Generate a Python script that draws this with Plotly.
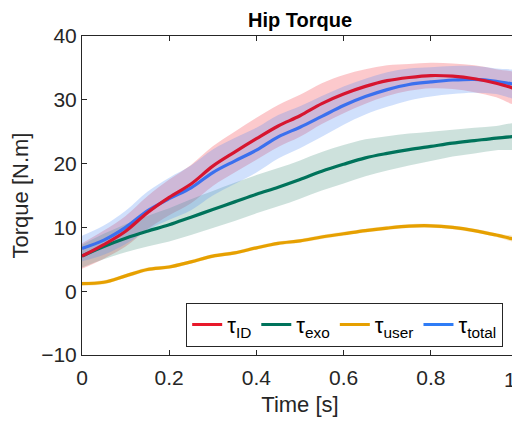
import plotly.graph_objects as go

t = [round(i * 0.05, 2) for i in range(21)]

tau_id = [5.5, 7.3, 9.4, 12.3, 14.7, 16.8, 19.6, 21.8, 23.9, 25.9, 27.5,
          29.4, 30.9, 32.1, 33.0, 33.5, 33.8, 33.7, 33.3, 32.6, 31.6]
tau_id_sd = [2.0, 2.2, 2.4, 2.6, 2.8, 3.0, 3.1, 3.2, 3.3, 3.3, 3.3,
             3.2, 3.0, 2.7, 2.4, 2.1, 2.0, 2.0, 2.1, 2.2, 2.3]

tau_total = [6.7, 8.0, 10.0, 12.6, 14.5, 16.2, 18.6, 20.4, 22.1, 24.2, 25.7,
             27.4, 29.1, 30.5, 31.6, 32.4, 32.8, 33.1, 33.2, 32.9, 32.3]
tau_total_sd = [2.0, 2.3, 2.6, 3.0, 3.3, 3.5, 3.6, 3.6, 3.5, 3.4, 3.3,
                3.2, 3.0, 2.8, 2.7, 2.5, 2.3, 2.2, 2.1, 2.0, 2.0]

tau_exo = [5.5, 7.0, 8.3, 9.4, 10.4, 11.6, 12.8, 14.0, 15.2, 16.3, 17.5,
           18.8, 19.9, 20.9, 21.6, 22.2, 22.7, 23.2, 23.6, 24.0, 24.3]
tau_exo_sd = [1.8, 2.0, 2.2, 2.4, 2.6, 2.8, 2.9, 3.0, 3.0, 3.0, 3.0,
              3.0, 3.0, 2.9, 2.7, 2.5, 2.3, 2.1, 2.0, 1.9, 1.8]

tau_user = [1.2, 1.4, 2.4, 3.4, 3.8, 4.6, 5.5, 6.0, 6.8, 7.5, 7.9,
            8.5, 9.0, 9.5, 9.9, 10.2, 10.25, 10.0, 9.5, 8.8, 8.0]
tau_user_sd = [0.3] * 21

x_ticks = [0, 0.2, 0.4, 0.6, 0.8, 1]
x_ticklabels = ["0", "0.2", "0.4", "0.6", "0.8", "1"]
y_ticks = [-10, 0, 10, 20, 30, 40]

series = [
    ("τ<sub>ID</sub>", tau_id, tau_id_sd, "#D7152F", "rgba(245,90,100,0.33)", "#E8182A"),
    ("τ<sub>exo</sub>", tau_exo, tau_exo_sd, "#00735B", "rgba(60,140,120,0.26)", "#00735B"),
    ("τ<sub>user</sub>", tau_user, tau_user_sd, "#E6A000", "rgba(236,170,40,0.3)", "#E6A000"),
    ("τ<sub>total</sub>", tau_total, tau_total_sd, "#3B70EE", "rgba(80,140,245,0.27)", "#2F7CF6"),
]

fig = go.Figure()

for name, y, sd, lc, fc, legc in series:
    upper = [a + b for a, b in zip(y, sd)]
    lower = [a - b for a, b in zip(y, sd)]
    fig.add_trace(go.Scatter(x=t + t[::-1], y=upper + lower[::-1], fill="toself",
                             fillcolor=fc, line=dict(width=0, shape="spline"),
                             mode="lines", showlegend=False, hoverinfo="skip"))

for idx in [1, 2, 3, 0]:
    name, y, sd, lc, fc, legc = series[idx]
    fig.add_trace(go.Scatter(x=t, y=y, mode="lines", name=name,
                             line=dict(color=lc, width=3.2, shape="spline"),
                             showlegend=False))

for idx, (name, y, sd, lc, fc, legc) in enumerate(series):
    fig.add_trace(go.Scatter(x=[None], y=[None], mode="lines", name=name,
                             line=dict(color=legc, width=3.2), legendrank=idx))

FONT = "Liberation Sans, Arial"
tick_font = dict(family=FONT, size=21, color="#262626")
title_font = dict(family=FONT, size=22, color="#262626")

# the last x tick label sits at the window edge: draw it right-aligned to the tick
axis_tick_text = x_ticklabels[:-1] + [""]
edge_label = dict(text=x_ticklabels[-1], xref="x", yref="paper", x=x_ticks[-1], y=0,
                  xanchor="right", yanchor="middle", yshift=-24, showarrow=False,
                  font=tick_font)

# page body has an 8px margin, so offset the margins accordingly
fig.update_layout(
    width=520, height=421,
    margin=dict(l=74, r=10, t=28, b=74),
    paper_bgcolor="white", plot_bgcolor="white",
    font=dict(family=FONT, color="#262626"),
    legend=dict(orientation="h", x=0.966, xanchor="right", y=0.026, yanchor="bottom",
                bgcolor="white", bordercolor="#262626", borderwidth=1,
                font=dict(family=FONT, size=22, color="black"),
                itemwidth=30, tracegroupgap=0, traceorder="normal"),
    xaxis=dict(range=[0, 1], tickvals=x_ticks, ticktext=axis_tick_text,
               ticks="inside", ticklen=5, tickcolor="#262626",
               showline=True, linecolor="#262626", linewidth=1, mirror="ticks",
               showgrid=False, zeroline=False, tickfont=tick_font, automargin=False,
               ticklabelstandoff=4,
               title=dict(text="Time [s]", font=title_font, standoff=8)),
    yaxis=dict(range=[-10, 40], tickvals=y_ticks,
               ticks="inside", ticklen=5, tickcolor="#262626",
               showline=True, linecolor="#262626", linewidth=1, mirror="ticks",
               showgrid=False, zeroline=False, tickfont=tick_font, automargin=False,
               title=dict(text="Torque [N.m]", font=title_font, standoff=6)),
    annotations=[dict(text="<b>Hip Torque</b>", xref="paper", yref="paper",
                      x=0.5, y=1, xanchor="center", yanchor="middle", yshift=16,
                      showarrow=False,
                      font=dict(family=FONT, size=20, color="black")),
                 edge_label],
)

fig.write_html("out.html")
